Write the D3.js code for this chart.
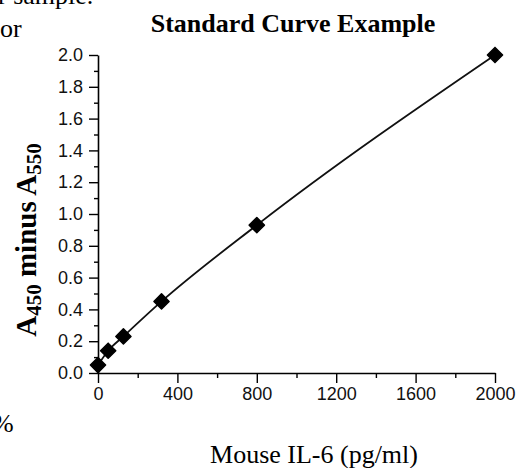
<!DOCTYPE html>
<meta charset="utf-8">
<style>
body { margin: 0; background: #fff; }
svg text { fill: #000; }
.serif { font-family: "Liberation Serif", "Times New Roman", serif; }
.tick text { font-family: "Liberation Sans", Arial, sans-serif; font-size: 18px; fill: #111; }
</style>
<body>
<svg width="517" height="468"></svg>
<script src="https://cdn.jsdelivr.net/npm/d3@7"></script>
<script>

// standard dilutions (pg/ml) and measured absorbance
var conc = [0, 51.2, 128, 320, 800, 2000];
var absorb = [0.05, 0.14, 0.23, 0.45, 0.93, 2.00];
var xTicks = [0, 400, 800, 1200, 1600, 2000];
var yTicks = [0, 0.2, 0.4, 0.6, 0.8, 1.0, 1.2, 1.4, 1.6, 1.8, 2.0];

var svg = d3.select("svg");

var x = d3.scaleLinear().domain([0, 2000]).range([98, 495]);
var y = d3.scaleLinear().domain([0, 2]).range([373, 55]);

// minor ticks first, then major axes on top
svg.append("g").attr("transform", "translate(0,373)")
  .call(d3.axisBottom(x).tickValues(d3.range(200, 2000, 400)).tickSize(5).tickFormat(""))
  .call(g => g.select(".domain").remove());
svg.append("g").attr("transform", "translate(98,0)")
  .call(d3.axisLeft(y).tickValues(d3.range(0.1, 2, 0.2)).tickSize(4).tickFormat(""))
  .call(g => g.select(".domain").remove());

svg.append("g").attr("transform", "translate(0,373)")
  .call(d3.axisBottom(x).tickValues(xTicks).tickSize(10).tickSizeOuter(0).tickPadding(4).tickFormat(d3.format("d")))
  .call(g => g.selectAll("path, line").attr("stroke", "#000").attr("stroke-width", 1.6));
svg.append("g").attr("transform", "translate(98,0)")
  .call(d3.axisLeft(y).tickValues(yTicks).tickSize(9).tickSizeOuter(0).tickPadding(6).tickFormat(d3.format(".1f")))
  .call(g => g.selectAll("path, line").attr("stroke", "#000").attr("stroke-width", 1.6));
svg.selectAll(".tick line").attr("stroke", "#000").attr("stroke-width", 1.4);

var pts = conc.map((c, i) => [c, absorb[i]]);

svg.append("path")
  .datum(pts)
  .attr("fill", "none")
  .attr("stroke", "#111")
  .attr("stroke-width", 1.8)
  .attr("d", d3.line().x(d => x(d[0])).y(d => y(d[1])).curve(d3.curveMonotoneX));

var sq = d3.symbol().type(d3.symbolSquare).size(115);
svg.append("g").selectAll("path")
  .data(pts)
  .join("path")
  .attr("d", sq)
  .attr("transform", d => "translate(" + x(d[0]) + "," + y(d[1]) + ") rotate(45)")
  .attr("fill", "#000")
  .attr("stroke", "#000")
  .attr("stroke-width", 1.5)
  .attr("stroke-linejoin", "round");

// title and axis titles
svg.append("text").attr("class", "serif")
  .attr("x", 293).attr("y", 32)
  .attr("text-anchor", "middle")
  .style("font-size", "26px").style("font-weight", "bold")
  .text("Standard Curve Example");

svg.append("text").attr("class", "serif")
  .attr("x", 314).attr("y", 463)
  .attr("text-anchor", "middle")
  .style("font-size", "26px")
  .text("Mouse IL-6 (pg/ml)");

var yl = svg.append("text").attr("class", "serif")
  .attr("transform", "translate(36,240) rotate(-90)")
  .attr("text-anchor", "middle")
  .style("font-size", "29px").style("font-weight", "bold");
yl.append("tspan").text("A");
yl.append("tspan").attr("dy", 5).style("font-size", "21px").text("450");
yl.append("tspan").attr("dy", -5).text(" minus A");
yl.append("tspan").attr("dy", 5).style("font-size", "21px").text("550");

// bits of the surrounding page text
svg.append("text").attr("class", "serif").attr("x", -2).attr("y", 4)
  .style("font-size", "26px").text("r sample.");
svg.append("text").attr("class", "serif").attr("x", 0).attr("y", 37)
  .style("font-size", "26px").text("or");
svg.append("text").attr("class", "serif").attr("x", -8).attr("y", 432)
  .style("font-size", "26px").text("%");

</script>
